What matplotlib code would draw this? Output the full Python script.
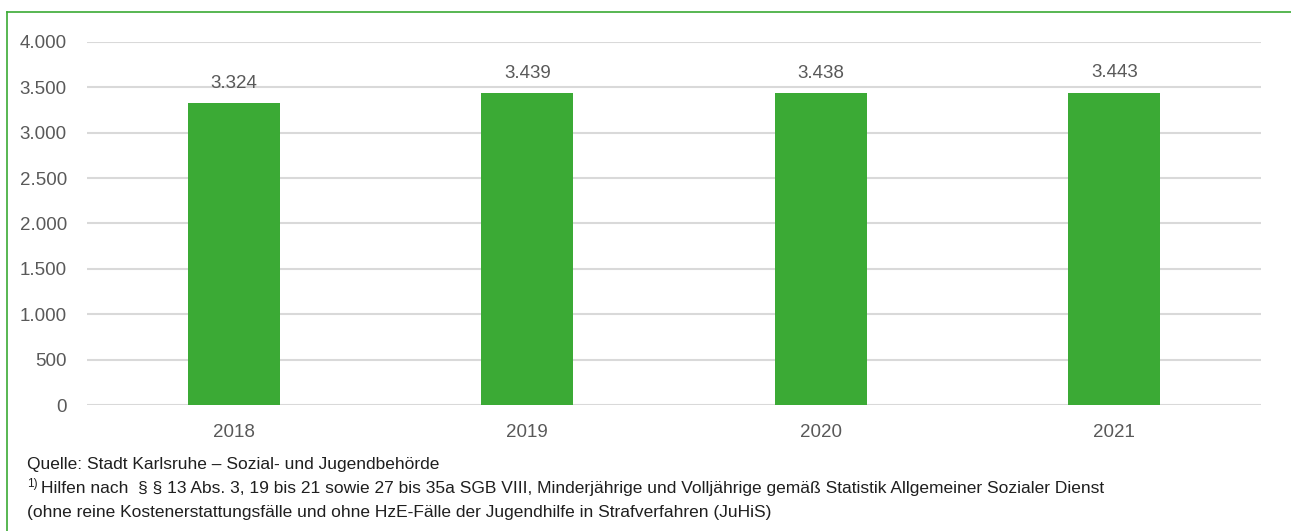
import matplotlib
matplotlib.use("Agg")
import matplotlib.pyplot as plt
from matplotlib.lines import Line2D
from matplotlib.ticker import FuncFormatter

years = ["2018", "2019", "2020", "2021"]
values = [3324, 3439, 3438, 3443]
y_ticks = [0, 500, 1000, 1500, 2000, 2500, 3000, 3500, 4000]

plt.rcParams['font.family'] = ['Liberation Sans', 'DejaVu Sans']

GREEN = "#3BAA35"
TEXT = "#595959"
GRID = "#D9D9D9"

fig = plt.figure(figsize=(12.91, 5.31), dpi=100)
W, H = 1291, 531
ax = fig.add_axes([87 / W, 1 - 405 / H, (1261 - 87) / W, (405 - 42) / H])

x = range(len(years))
bars = ax.bar(x, values, width=0.313, color=GREEN, zorder=3)
ax.set_xlim(-0.5, len(years) - 0.5)
ax.set_ylim(0, 4000)
ax.set_yticks(y_ticks)
ax.yaxis.set_major_formatter(FuncFormatter(lambda v, p: f"{int(v):,}".replace(",", ".")))
ax.set_xticks(list(x))
ax.set_xticklabels(years)
ax.grid(axis='y', color=GRID, linewidth=1.5, zorder=0)
for s in ax.spines.values():
    s.set_visible(False)
ax.tick_params(axis='both', length=0, labelsize=13.5, labelcolor=TEXT)
ax.tick_params(axis='y', pad=14.5)
ax.tick_params(axis='x', pad=14)

for b, v in zip(bars, values):
    ax.annotate(f"{v:,}".replace(",", "."), (b.get_x() + b.get_width() / 2, v),
                xytext=(0, 8), textcoords="offset points", ha="center", va="bottom",
                fontsize=13.5, color=TEXT)

# frame lines (top and left)
fig.add_artist(Line2D([7 / W, 1], [1 - 12 / H, 1 - 12 / H], color=GREEN, linewidth=1.2, transform=fig.transFigure))
fig.add_artist(Line2D([7 / W, 7 / W], [0, 1 - 12 / H], color=GREEN, linewidth=1.2, transform=fig.transFigure))

fs = 12.5
FC = "#1f1f1f"
fig.text(27 / W, 1 - 465 / H, "Quelle: Stadt Karlsruhe – Sozial- und Jugendbehörde", fontsize=fs, color=FC, va="center")
fig.text(27 / W, 1 - 484 / H, "1)", fontsize=8.5, color=FC, va="center")
fig.text(41 / W, 1 - 489 / H, "Hilfen nach  § § 13 Abs. 3, 19 bis 21 sowie 27 bis 35a SGB VIII, Minderjährige und Volljährige gemäß Statistik Allgemeiner Sozialer Dienst",
         fontsize=fs, color=FC, va="center")
fig.text(27 / W, 1 - 513 / H, "(ohne reine Kostenerstattungsfälle und ohne HzE-Fälle der Jugendhilfe in Strafverfahren (JuHiS)",
         fontsize=fs, color=FC, va="center")

fig.savefig("out.png", dpi=100)
